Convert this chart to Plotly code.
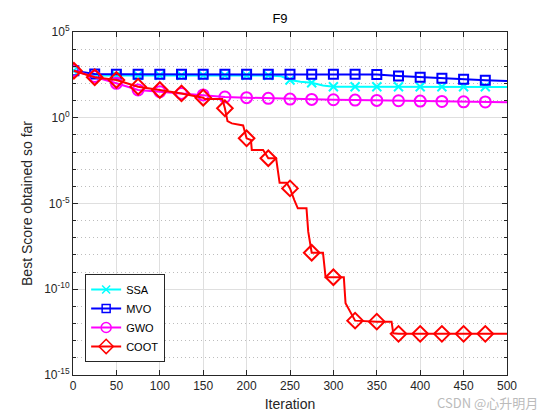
import plotly.graph_objects as go

# ---- data (log10 of best score) ----
marker_iters = [1, 25, 50, 75, 100, 125, 150, 175, 200, 225, 250, 275, 300, 325, 350, 375, 400, 425, 450, 475]

ssa_iters = [1, 25, 50, 100, 150, 200, 225, 240, 250, 262, 275, 288, 300, 325, 350, 375, 400, 425, 450, 475, 500]
ssa_log = [2.74, 2.47, 2.47, 2.47, 2.47, 2.47, 2.47, 2.42, 2.2, 2.1, 2.04, 1.88, 1.81, 1.81, 1.81, 1.81, 1.81, 1.81, 1.81, 1.81, 1.79]

mvo_iters = [1, 25, 50, 75, 100, 125, 150, 175, 200, 225, 250, 275, 300, 325, 350, 375, 400, 425, 450, 475, 500]
mvo_log = [2.74, 2.55, 2.53, 2.53, 2.53, 2.53, 2.53, 2.53, 2.53, 2.53, 2.53, 2.53, 2.53, 2.53, 2.52, 2.43, 2.36, 2.30, 2.24, 2.18, 2.14]

gwo_iters = [1, 25, 50, 75, 100, 125, 150, 175, 200, 225, 250, 275, 300, 325, 350, 375, 400, 425, 450, 475, 500]
gwo_log = [2.74, 2.4, 2.01, 1.62, 1.52, 1.42, 1.33, 1.21, 1.17, 1.13, 1.09, 1.07, 1.05, 1.03, 1.01, 0.99, 0.97, 0.95, 0.93, 0.92, 0.90]

coot_iters = [1, 25, 50, 75, 100, 125, 150, 152, 172, 175, 178, 183, 196, 200, 205, 206, 219, 225, 234, 238, 246, 250,
              255, 259, 269, 271, 275, 288, 291, 312, 314, 325, 350, 367, 369, 375, 400, 425, 450, 475, 500]
coot_log = [2.74, 2.36, 2.2, 1.81, 1.62, 1.42, 1.17, 1.09, 1.09, 0.55, -0.2, -0.33, -0.45, -1.2, -1.3, -1.88, -1.88, -2.36,
            -2.36, -3.79, -3.79, -4.12, -4.8, -5.28, -5.28, -6.64, -7.87, -7.87, -9.3, -9.3, -10.82, -11.83, -11.89,
            -11.89, -12.57, -12.6, -12.6, -12.6, -12.6, -12.6, -12.6]

names = ["SSA", "MVO", "GWO", "COOT"]
colors = ["#00FFFF", "#0000FF", "#FF00FF", "#FF0000"]
symbols = ["x-thin-open", "square-open", "circle-open", "diamond-open"]
ytick_exps = [5, 0, -5, -10, -15]
xtick_vals = [0, 50, 100, 150, 200, 250, 300, 350, 400, 450, 500]

series = [(ssa_iters, ssa_log), (mvo_iters, mvo_log), (gwo_iters, gwo_log), (coot_iters, coot_log)]


def value_at(xs, ys, x):
    for i in range(len(xs) - 1):
        if xs[i] <= x <= xs[i + 1]:
            t = (x - xs[i]) / (xs[i + 1] - xs[i])
            return ys[i] + t * (ys[i + 1] - ys[i])
    return ys[-1]


fig = go.Figure()
sizes = [9, 9, 11, 12]
for (xs, ls), name, c, sym, sz in zip(series, names, colors, symbols, sizes):
    yv = [10 ** v for v in ls]
    fig.add_trace(go.Scatter(x=xs, y=yv, mode="lines", line=dict(color=c, width=2),
                             showlegend=False, hoverinfo="skip"))
    my = [10 ** value_at(xs, ls, m) for m in marker_iters]
    fig.add_trace(go.Scatter(x=marker_iters, y=my, mode="markers",
                             marker=dict(symbol=sym, size=sz, color=c, line=dict(color=c, width=2)),
                             showlegend=False))
    fig.add_trace(go.Scatter(x=[None], y=[None], mode="lines+markers", name=name,
                             line=dict(color=c, width=2),
                             marker=dict(symbol=sym, size=sz - 1, color=c, line=dict(color=c, width=1.5))))

minor_vals = [10 ** k for k in range(-15, 6)]

fig.update_layout(
    width=560, height=420,
    margin=dict(l=73, r=53, t=32, b=45),
    paper_bgcolor="white", plot_bgcolor="white",
    font=dict(family="Liberation Sans, Arial, sans-serif", size=12, color="#262626"),
    title=dict(text="F9", x=0.5, xanchor="center", y=0.968, yanchor="top",
               font=dict(size=13, color="#000000")),
    showlegend=True,
    legend=dict(x=0.028, y=0.038, xanchor="left", yanchor="bottom",
                bgcolor="white", bordercolor="#262626", borderwidth=1,
                font=dict(size=11, color="#000000"), tracegroupgap=0, itemwidth=30),
    xaxis=dict(range=[0, 500], tickvals=xtick_vals, showline=True, linecolor="#262626", linewidth=1,
               mirror="allticks", ticks="inside", ticklen=5, tickcolor="#262626",
               showgrid=True, gridcolor="#DFDFDF", gridwidth=1, zeroline=False,
               title=dict(text="Iteration", font=dict(size=14, color="#262626"), standoff=6),
               tickfont=dict(size=12)),
    yaxis=dict(type="log", range=[-15, 5],
               tickvals=[10 ** e for e in ytick_exps],
               ticktext=["10<sup>%d</sup>" % e for e in ytick_exps],
               showline=True, linecolor="#262626", linewidth=1, mirror="allticks",
               ticks="inside", ticklen=5, tickcolor="#262626",
               showgrid=True, gridcolor="#DFDFDF", gridwidth=1, zeroline=False,
               minor=dict(tickvals=minor_vals, ticks="inside", ticklen=3, tickcolor="#262626",
                          showgrid=True, gridcolor="#BDBDBD", griddash="1px,3px", gridwidth=1),
               title=dict(text="Best Score obtained so far", font=dict(size=14, color="#262626"), standoff=8),
               tickfont=dict(size=12)),
)

fig.add_annotation(text="CSDN @心升明月", xref="paper", yref="paper", x=1.076, y=-0.079,
                   xanchor="right", yanchor="middle", showarrow=False,
                   font=dict(size=13, color="#BBBBBB", family="Noto Sans CJK SC, Liberation Sans"))

fig.write_html("out.html", config={"displayModeBar": False},
               post_script="document.body.style.margin='0';document.body.style.overflow='hidden';")
